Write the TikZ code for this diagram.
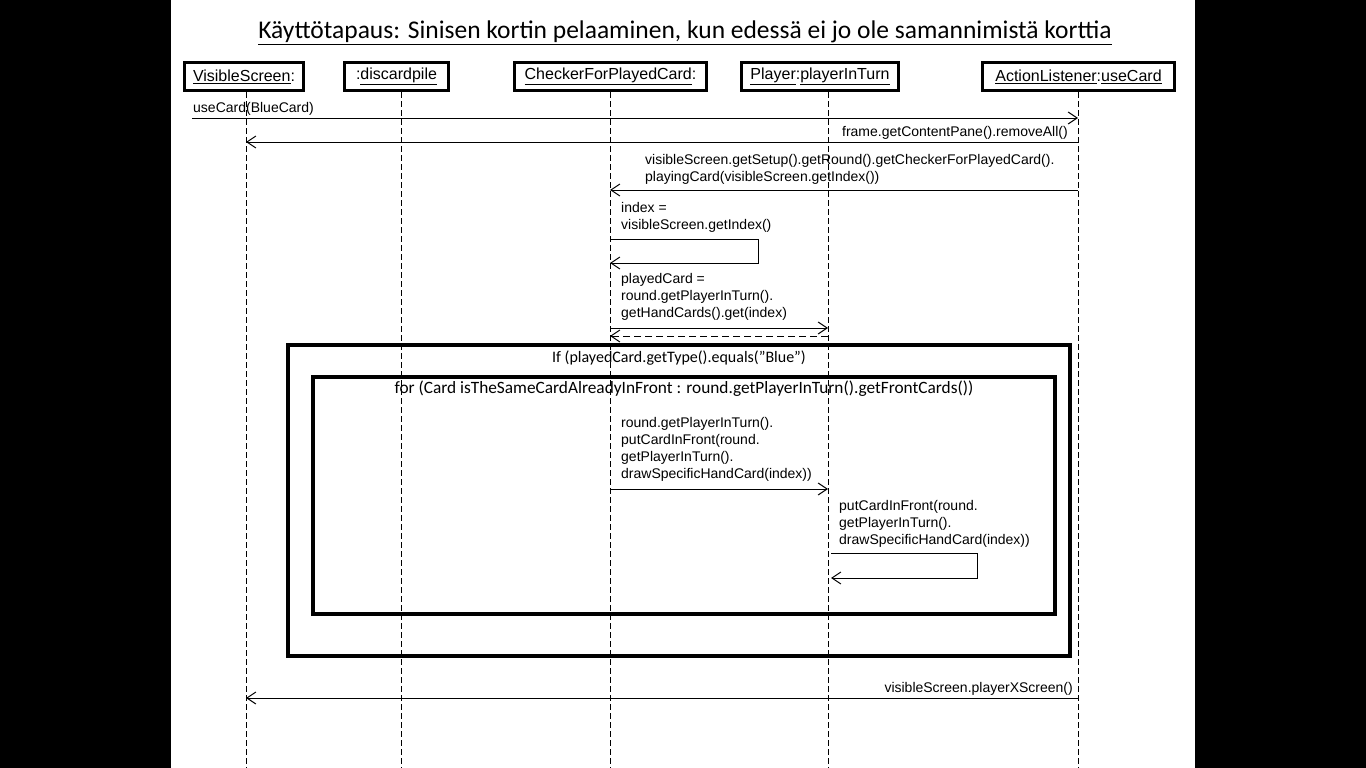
\documentclass[tikz,border=0pt]{standalone}
\usepackage{fontspec}
\setmainfont{Liberation Sans}
\newfontfamily\calibri{Carlito}
\usepackage{tikz}
\usetikzlibrary{arrows.meta,positioning}

\begin{document}
\begin{tikzpicture}[line cap=butt,line join=miter,x=1pt,y=-1pt,
  >={Straight Barb[length=9pt,width=12pt,line width=1pt]},
  actor/.style={draw=black,line width=3.5pt,minimum height=28pt,inner sep=0pt,font=\fontsize{16}{19}\selectfont},
  msgtext/.style={inner sep=0pt,align=left,font=\fontsize{14}{17}\selectfont},
  msg/.style={->,line width=1pt},
  reply/.style={->,line width=1pt,dash pattern=on 7pt off 4pt},
  lifeline/.style={line width=1pt,dash pattern=on 6pt off 3pt},
  fragment/.style={draw=black,line width=3.5pt,inner sep=0pt},
  guard/.style={inner sep=0pt,font=\calibri\fontsize{16}{19}\selectfont}]
\fill[color=black] (0,0) rectangle (1366,768);
\fill[color=white] (171,0) rectangle (1195,768);
\useasboundingbox (0,0) rectangle (1366,768);
\node[inner sep=0pt,font=\calibri\fontsize{25.5}{30}\selectfont] (title) at (685,33) {\underline{Käyttötapaus: Sinisen kortin pelaaminen, kun edessä ei jo ole samannimistä korttia}};
\foreach \n/\x in {vs/246,dp/401,chk/610,pl/828,al/1078}
{
\coordinate (\n-top) at (\x,92);
\coordinate (\n-bot) at (\x,768);
\draw[lifeline] (\n-top) -- (\n-bot);
}
\node[actor,minimum width=119pt] (vs) at (244,76.5) {\underline{VisibleScreen}:};
\node[actor,minimum width=104pt] (dp) at (396.5,76.5) {:\underline{discardpile}};
\node[actor,minimum width=192pt] (chk) at (610.5,76.5) {\underline{CheckerForPlayedCard}:};
\node[actor,minimum width=157pt] (pl) at (820,76.5) {\underline{Player}:\underline{playerInTurn}};
\node[actor,minimum width=192pt] (al) at (1078.5,76.5) {\underline{ActionListener}:\underline{useCard}};
% messages
\coordinate (start) at (192,118);
\draw[msg] (start) -- (al-top |- start);
\node[msgtext,anchor=north west] (usecard) at (193,102.5) {useCard(BlueCard)};
\draw[msg] (al-top |- 0,142) -- (vs-top |- 0,142);
\node[msgtext,anchor=north east] (removeall) at (1068,126.5) {frame.getContentPane().removeAll()};
\node[msgtext,anchor=north west] (playing) at (645,154.5) {visibleScreen.getSetup().getRound().getCheckerForPlayedCard().\\playingCard(visibleScreen.getIndex())};
\draw[msg] (al-top |- 0,190) -- (chk-top |- 0,190);
\node[msgtext,anchor=north west] (index) at (621,202) {index =\\visibleScreen.getIndex()};
\draw[msg] (chk-top |- 0,239) -- ++(148,0) -- ++(0,24) -- (chk-top |- 0,263);
\node[msgtext,anchor=north west] (played) at (621,273.5) {playedCard =\\round.getPlayerInTurn().\\getHandCards().get(index)};
\draw[msg] (chk-top |- 0,328) -- (pl-top |- 0,328);
\draw[reply] (pl-top |- 0,336) -- (chk-top |- 0,336);
% fragments
\node[fragment,minimum width=782pt,minimum height=311pt] (ifframe) at (679,500.5) {};
\node[guard,below=7pt of ifframe.north] (ifguard) {If (playedCard.getType().equals(”Blue”)};
\node[fragment,minimum width=742pt,minimum height=237pt] (forframe) at (684,495.5) {};
\node[guard,font=\calibri\fontsize{17.3}{20}\selectfont,below=5pt of forframe.north] (forguard) {for (Card isTheSameCardAlreadyInFront : round.getPlayerInTurn().getFrontCards())};
\node[msgtext,anchor=north west] (putfront) at (621,417.5) {round.getPlayerInTurn().\\putCardInFront(round.\\getPlayerInTurn().\\drawSpecificHandCard(index))};
\draw[msg] (chk-top |- 0,489) -- (pl-top |- 0,489);
\node[msgtext,anchor=north west] (putself) at (839,500.5) {putCardInFront(round.\\getPlayerInTurn().\\drawSpecificHandCard(index))};
\draw[msg] ([xshift=3pt]pl-top |- 0,553) -- ++(146,0) -- ++(0,25) -- ([xshift=3pt]pl-top |- 0,578);
\draw[msg] (al-top |- 0,698) -- (vs-top |- 0,698);
\node[msgtext,anchor=north east] (xscreen) at (1073,682) {visibleScreen.playerXScreen()};
\end{tikzpicture}
\end{document}
